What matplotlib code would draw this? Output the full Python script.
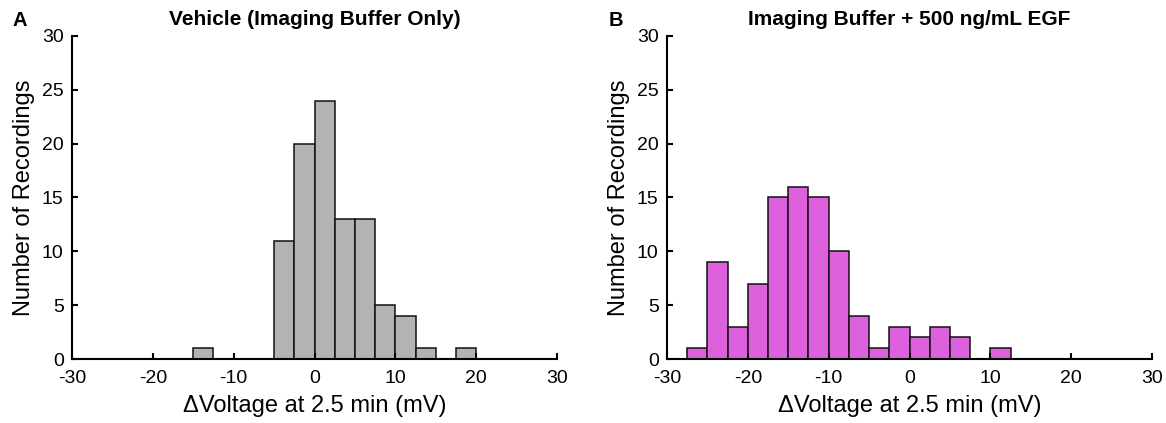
import numpy as np
import matplotlib.pyplot as plt

plt.rcParams['font.family'] = ['Liberation Sans', 'DejaVu Sans']
plt.rcParams['axes.unicode_minus'] = False

# bin edges start and width (mV)
binWidth = 2.5

vehicleStart = -15.0
vehicleCounts = [1, 0, 0, 0, 11, 20, 24, 13, 13, 5, 4, 1, 0, 1]

egfStart = -27.5
egfCounts = [1, 9, 3, 7, 15, 16, 15, 10, 4, 1, 3, 2, 3, 2, 0, 1]

titles = ['Vehicle (Imaging Buffer Only)', 'Imaging Buffer + 500 ng/mL EGF']
letters = ['A', 'B']
colors = ['#b3b3b3', '#dd60dd']
xticks = [-30, -20, -10, 0, 10, 20, 30]
yticks = [0, 5, 10, 15, 20, 25, 30]

fig = plt.figure(figsize=(11.66, 4.23), dpi=100)
axLeft = fig.add_axes([72/1166, 64/423, 485/1166, 323/423])
axRight = fig.add_axes([667/1166, 64/423, 485/1166, 323/423])

panels = [(axLeft, vehicleStart, vehicleCounts), (axRight, egfStart, egfCounts)]
for k, (ax, start, counts) in enumerate(panels):
	edges = start + binWidth*np.arange(len(counts) + 1)
	centers = edges[:-1] + binWidth/2
	ax.hist(centers, bins=edges, weights=counts, color=colors[k],
		edgecolor='#111111', linewidth=1.1)
	ax.set_xlim(-30, 30)
	ax.set_ylim(0, 30)
	ax.set_xticks(xticks)
	ax.set_yticks(yticks)
	ax.spines['top'].set_visible(False)
	ax.spines['right'].set_visible(False)
	ax.spines['left'].set_linewidth(1.5)
	ax.spines['bottom'].set_linewidth(1.5)
	ax.tick_params(direction='in', length=4, width=1.5, labelsize=14)
	ax.tick_params(axis='x', pad=8)
	ax.tick_params(axis='y', pad=6)
	ax.set_xlabel('\u0394Voltage at 2.5 min (mV)', fontsize=17, labelpad=6)
	ax.set_ylabel('Number of Recordings', fontsize=17, labelpad=5)
	ax.set_title(titles[k], fontsize=15, fontweight='bold', pad=8)

fig.text(20/1166, 1 - 20/423, letters[0], fontsize=14.5, fontweight='bold', ha='center', va='center')
fig.text(616/1166, 1 - 20/423, letters[1], fontsize=14.5, fontweight='bold', ha='center', va='center')

fig.savefig('out.png', dpi=100)
